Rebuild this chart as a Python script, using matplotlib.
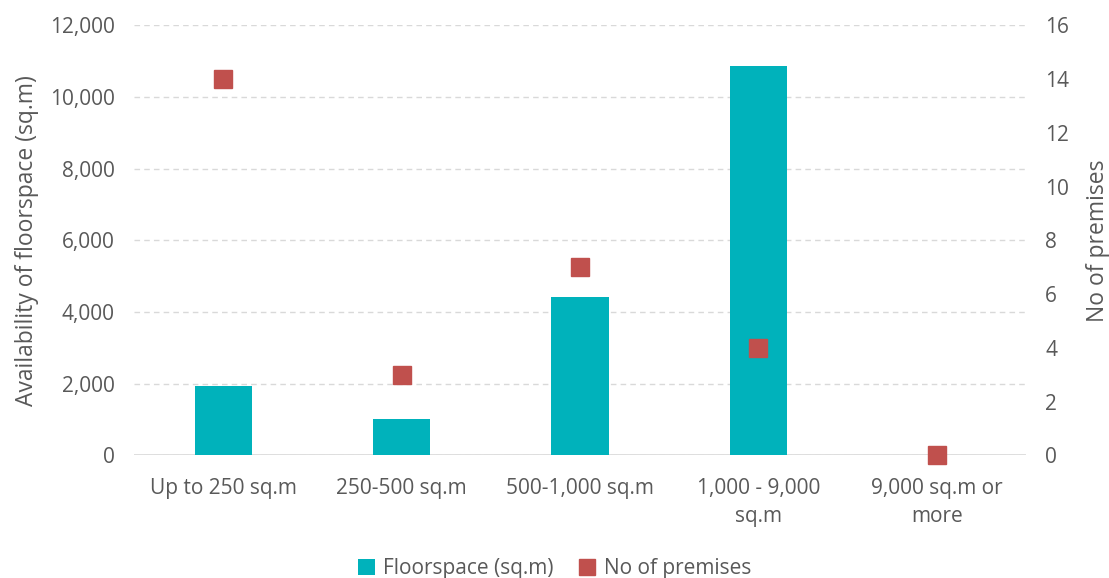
import matplotlib
matplotlib.use("Agg")
import matplotlib.pyplot as plt
from matplotlib.ticker import FuncFormatter
from matplotlib.lines import Line2D
from matplotlib.patches import Patch

categories = ["Up to 250 sq.m", "250-500 sq.m", "500-1,000 sq.m",
              "1,000 - 9,000\nsq.m", "9,000 sq.m or\nmore"]
floorspace = [1940, 1030, 4420, 10880, 0]
premises = [14, 3, 7, 4, 0]

TEXT = "#595959"
BAR = "#00B2BB"
MARK = "#C0504D"

plt.rcParams["font.family"] = ["Open Sans", "DejaVu Sans"]

fig = plt.figure(figsize=(11.09, 5.78), dpi=100)
ax = fig.add_axes([0.121, 0.212, 0.804, 0.744])
ax2 = ax.twinx()

x = list(range(len(categories)))
ax.bar(x, floorspace, width=0.32, color=BAR, zorder=2)
ax2.plot(x, premises, linestyle="none", marker="s", markersize=13,
         color=MARK, zorder=3, clip_on=False)

ax.set_xlim(-0.5, 4.5)
ax.set_ylim(0, 12000)
ax.set_yticks(range(0, 12001, 2000))
ax.yaxis.set_major_formatter(FuncFormatter(lambda v, p: f"{int(v):,}"))
ax2.set_ylim(0, 16)
ax2.set_yticks(range(0, 17, 2))

ax.grid(axis="y", color="#D9D9D9", linestyle=(0, (4, 3)), linewidth=1, zorder=0)
ax.set_axisbelow(True)
ax.axhline(0, color="#D9D9D9", linewidth=1.2, zorder=1)

for a in (ax, ax2):
    for s in a.spines.values():
        s.set_visible(False)
    a.tick_params(length=0, labelsize=15, colors=TEXT)

ax.set_xticks(x)
ax.set_xticklabels(categories, fontsize=15, color=TEXT, linespacing=1.45)
ax.tick_params(axis="x", pad=16)
ax.tick_params(axis="y", pad=14)
ax2.tick_params(axis="y", pad=14)

ax.set_ylabel("Availability of floorspace (sq.m)", fontsize=16.5, color=TEXT, labelpad=8)
ax2.set_ylabel("No of premises", fontsize=16.5, color=TEXT, labelpad=12)

handles = [Patch(facecolor=BAR, edgecolor="none", label="Floorspace (sq.m)"),
           Line2D([], [], linestyle="none", marker="s", markersize=12,
                  color=MARK, label="No of premises")]
fig.legend(handles=handles, loc="lower center", bbox_to_anchor=(0.5, -0.035),
           ncol=2, frameon=False, fontsize=15, labelcolor=TEXT,
           handlelength=0.8, handleheight=0.8, handletextpad=0.4, columnspacing=1.2)

fig.savefig("out.png", dpi=100, facecolor="white")
